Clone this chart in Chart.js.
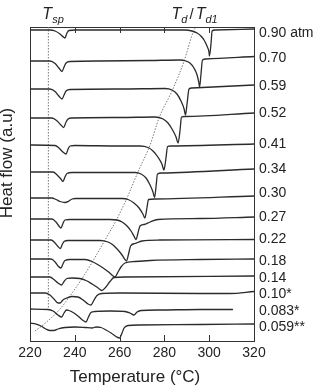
<!DOCTYPE html>
<html>
<head>
<meta charset="utf-8">
<script src="https://cdn.jsdelivr.net/npm/chart.js@4.4.1/dist/chart.umd.min.js"></script>
<style>
  html, body { margin: 0; padding: 0; background: #fff; }
</style>
</head>
<body>
<canvas id="dsc" width="321" height="391"></canvas>
<script>
// pressure of each trace, top to bottom
const pressureLabels = ["0.90 atm", "0.70", "0.59", "0.52", "0.41", "0.34", "0.30",
    "0.27", "0.22", "0.18", "0.14", "0.10*", "0.083*", "0.059**"];
// heat flow level (a.u.) where each pressure label sits
const labelLevels = [308, 283, 255, 228, 197, 172, 148, 124, 102, 80, 63, 47, 30, 14];
const xTicks = [220, 240, 260, 280, 300, 320];
const innerTicks = [240, 260, 280, 300];

// Tsp marker and Td guide line, [temperature, heat flow]
const tspTemp = 228.2;
const tspLine = [[228.2, 314], [228.2, 33]];
const tdLine = [[222.2, 10], [225.8, 16], [233.4, 32], [238.8, 48], [243.7, 64], [248.6, 82],
    [253.5, 101], [258.8, 122], [263.3, 143], [268.2, 169], [273.6, 196], [277.6, 223],
    [283.8, 252], [288.8, 280], [293.2, 311], [294.1, 314]];

// DSC traces, [temperature (°C), heat flow (a.u., offset)]
const p090 = [[220, 311], [228.9, 311], [231.2, 310], [233.4, 307], [235.2, 303.5], [235.6, 303],
    [236.5, 308], [237.4, 310.5], [240.1, 311], [260.2, 311], [278, 311], [289.2, 311],
    [292.3, 310], [294.6, 308], [296.3, 305], [297.7, 301], [299, 295], [299.9, 289],
    [300.1, 285], [300.8, 297], [301.3, 310], [302.6, 311], [320, 312]];
const p070 = [[220, 280], [228.9, 280], [231.2, 277.5], [232.9, 273], [234.3, 269.5], [235.2, 274],
    [236.1, 278], [237.9, 279.5], [251.3, 280], [273.6, 280.5], [287, 281], [289.6, 280],
    [291.4, 278], [293.2, 273], [294.6, 266], [295.4, 258], [295.7, 254], [296.3, 266],
    [297, 281], [298.6, 282], [320, 284.5]];
const p059 = [[220, 252], [228.9, 252], [231.2, 249.5], [232.9, 245], [234.3, 242], [235.2, 246],
    [236.1, 250], [237.9, 251.5], [260.2, 252], [280.3, 252.5], [283.4, 251], [285.6, 247],
    [287.4, 240], [288.8, 232], [289.4, 226], [290.1, 237], [291, 252], [292.3, 253], [320, 256]];
const p052 = [[220, 223], [229.8, 223], [232.1, 220], [233.8, 216], [235, 213.5], [236.1, 219],
    [237, 222], [238.8, 223], [260.2, 223.5], [275.8, 224], [279.4, 222], [281.6, 218],
    [283.4, 212], [285.2, 204], [286.1, 198], [287, 211], [287.6, 224], [289.2, 224.5], [320, 228]];
const p041 = [[220, 196], [231.2, 195.5], [232.9, 193], [234.7, 189], [236.1, 187], [237, 192],
    [237.9, 195], [240.1, 195.5], [260.2, 195], [269.1, 195], [272.7, 193.5], [274.9, 190],
    [277.1, 184], [278.9, 177], [279.8, 171], [280.7, 183], [281.4, 194.5], [282.9, 195], [320, 197]];
const p034 = [[220, 169], [230.3, 169], [232.1, 166], [233.8, 162], [234.7, 159.5], [235.6, 164],
    [236.5, 167.5], [238.8, 168.5], [260.2, 168.5], [266.9, 168.5], [269.6, 167], [271.8, 163],
    [273.6, 156], [274.9, 149], [275.6, 143.5], [276.3, 155], [276.9, 167], [278.9, 168], [320, 172]];
const p030 = [[220, 143], [229.8, 143], [231.6, 141.5], [233.4, 139.5], [235.6, 138.5], [237.4, 140],
    [238.8, 142], [240.5, 142.5], [255.7, 142.5], [261.1, 142.5], [263.8, 141.5], [266.4, 138],
    [268.7, 133], [270.4, 127], [271.3, 123], [272.2, 133], [272.9, 141.5], [275.8, 142], [320, 145]];
const p027 = [[220, 122], [229.8, 122], [231.6, 119], [232.9, 115], [233.8, 113], [234.7, 117.5],
    [235.6, 121], [237.9, 121.5], [255.7, 121.5], [258.8, 121], [261.1, 119], [263.3, 115],
    [265.1, 110], [266.4, 105], [267.3, 101.5], [268.2, 108], [269.1, 115], [270.9, 116.5],
    [273.6, 119], [277.1, 121.5], [295.9, 122.5], [320, 124]];
const p022 = [[220, 101], [229.4, 101], [231.2, 98], [232.5, 94.5], [233.6, 92.5], [234.3, 96],
    [235.2, 99.5], [237, 100.5], [251.3, 100.5], [254.8, 99], [257.1, 96], [259.3, 91],
    [261.1, 86], [262.4, 81.5], [263.1, 80], [264, 87], [264.9, 95], [266.9, 97.5], [270, 100],
    [278, 101], [320, 101.5]];
const p018 = [[220, 82], [229.4, 82], [231.2, 79], [232.5, 75], [233.8, 73], [234.7, 77],
    [235.6, 80.5], [237.9, 81.5], [244.6, 81.5], [247.7, 79.5], [251.3, 75], [254.8, 69.5],
    [257.1, 65], [257.9, 64], [259.3, 69], [260.6, 74], [262.4, 78], [266.9, 79.5], [273.6, 80.5],
    [295.9, 81.5], [320, 82]];
const p014 = [[220, 64], [228.9, 64], [230.7, 61.5], [232.5, 58], [234.1, 56], [235.2, 59.5],
    [236.5, 62.5], [238.8, 63], [242.3, 62.5], [245, 60.5], [247.7, 57], [250.4, 53],
    [252.1, 50.5], [253.9, 54], [255.7, 59.5], [257.5, 63.5], [262.4, 64], [320, 65]];
const p010 = [[220, 48], [226.7, 48], [228.9, 46], [230.7, 42], [232.5, 38], [233.4, 38],
    [234.7, 41], [236.5, 43], [238.8, 44.5], [241.4, 44], [243.7, 41], [245.9, 37], [247.2, 36],
    [248.6, 41], [249.9, 45.5], [252.1, 47.5], [260.2, 48], [295.9, 47.5], [309.3, 47.5], [320, 49.5]];
const p083 = [[220, 32], [228, 31.5], [230.3, 30], [232.5, 26], [234.1, 24], [235.2, 28],
    [236.3, 31], [237.4, 30.5], [239.6, 28], [241.9, 24], [243.7, 20.5], [245, 19], [245.9, 23],
    [247.2, 28.5], [249, 29.5], [255.7, 30], [262.4, 29.5], [264.6, 28], [266.4, 26], [267.8, 29],
    [269.6, 30.5], [278, 31], [295.9, 31.5], [310.6, 31.5]];
const p059b = [[220, 18], [222.7, 17], [224.9, 15], [227.1, 12], [228.9, 10.5], [230.7, 10.5],
    [232.5, 12], [235.6, 13.5], [240.1, 14], [244.6, 13.5], [247.7, 13], [249.5, 14],
    [251.7, 13.5], [253.9, 11], [256.2, 8], [258.4, 4.5], [260, 3], [261.1, 8], [262, 13],
    [263.8, 15.5], [269.1, 16], [295.9, 16.5], [320, 17]];

const curves = [p090, p070, p059, p052, p041, p034, p030, p027, p022, p018, p014, p010, p083, p059b];

const lineColor = "#2b2b2b";
const axisColor = "#333";
const fontFamily = "'Liberation Sans', Arial, sans-serif";
Chart.defaults.font.family = fontFamily;

const toXY = (pts) => pts.map((p) => ({ x: p[0], y: p[1] }));

const datasets = curves.map((pts, i) => ({
    label: pressureLabels[i],
    data: toXY(pts),
    borderColor: lineColor,
    borderWidth: 1.3,
    pointRadius: 0,
    cubicInterpolationMode: "monotone",
    fill: false,
}));
datasets.push({
    label: "Tsp",
    data: toXY(tspLine),
    borderColor: "#777",
    borderWidth: 1,
    borderDash: [1.5, 1.5],
    pointRadius: 0,
    tension: 0,
});
datasets.push({
    label: "Td",
    data: toXY(tdLine),
    borderColor: "#777",
    borderWidth: 1,
    borderDash: [1.5, 1.5],
    pointRadius: 0,
    cubicInterpolationMode: "monotone",
});

// draws T_sp / T_d labels, the axis titles and the inward ticks
function drawParts(ctx, x, baseline, parts) {
    parts.forEach((p) => {
        ctx.font = (p.italic ? "italic " : "") + p.size + "px " + fontFamily;
        x += p.gap || 0;
        ctx.fillText(p.t, x, baseline + (p.dy || 0));
        x += ctx.measureText(p.t).width;
    });
}

const extrasPlugin = {
    id: "dscExtras",
    afterDraw(chart) {
        const { ctx, chartArea, scales } = chart;
        ctx.save();
        ctx.strokeStyle = axisColor;
        ctx.lineWidth = 1;
        innerTicks.forEach((v) => {
            const px = Math.round(scales.x.getPixelForValue(v)) + 0.5;
            ctx.beginPath();
            ctx.moveTo(px, chartArea.bottom);
            ctx.lineTo(px, chartArea.bottom - 6);
            ctx.moveTo(px, chartArea.top);
            ctx.lineTo(px, chartArea.top + 6);
            ctx.stroke();
        });

        ctx.fillStyle = "#222";
        ctx.textAlign = "left";
        ctx.textBaseline = "alphabetic";
        drawParts(ctx, scales.x.getPixelForValue(tspTemp) - 6, 19, [
            { t: "T", size: 16, italic: true },
            { t: "sp", size: 11, italic: true, dy: 4 },
        ]);
        drawParts(ctx, scales.x.getPixelForValue(283.2), 19, [
            { t: "T", size: 16, italic: true },
            { t: "d", size: 11, italic: true, dy: 4 },
            { t: "/", size: 15, gap: 2 },
            { t: "T", size: 16, italic: true, gap: 2 },
            { t: "d1", size: 11, italic: true, dy: 4 },
        ]);

        ctx.font = "17px " + fontFamily;
        ctx.textAlign = "center";
        ctx.textBaseline = "middle";
        ctx.fillText("Temperature (°C)", 135, 377);
        ctx.translate(7, 163);
        ctx.rotate(-Math.PI / 2);
        ctx.fillText("Heat flow (a.u)", 0, 0);
        ctx.restore();
    },
};

const hiddenGrid = { display: false, drawTicks: false };
const frame = { display: true, color: axisColor, width: 1 };

new Chart(document.getElementById("dsc"), {
    type: "line",
    data: { datasets: datasets },
    options: {
        responsive: false,
        animation: false,
        events: [],
        layout: { padding: 0 },
        plugins: {
            legend: { display: false },
            tooltip: { enabled: false },
        },
        scales: {
            x: {
                type: "linear",
                position: "bottom",
                min: 220,
                max: 320,
                afterBuildTicks: (ax) => {
                    ax.ticks = xTicks.map((v) => ({ value: v }));
                },
                ticks: { font: { size: 14 }, color: "#222", padding: 4, maxRotation: 0, autoSkip: false },
                grid: hiddenGrid,
                border: frame,
                afterFit: (ax) => {
                    ax.height = 50;
                },
            },
            xTop: {
                type: "linear",
                position: "top",
                min: 220,
                max: 320,
                ticks: { display: false },
                grid: hiddenGrid,
                border: frame,
                afterFit: (ax) => {
                    ax.height = 27;
                },
            },
            yl: {
                type: "linear",
                position: "left",
                min: 0,
                max: 314,
                ticks: { display: false },
                grid: hiddenGrid,
                border: frame,
                afterFit: (ax) => {
                    ax.width = 30;
                },
            },
            y: {
                type: "linear",
                position: "right",
                min: 0,
                max: 314,
                afterBuildTicks: (ax) => {
                    ax.ticks = labelLevels.map((v) => ({ value: v }));
                },
                ticks: {
                    autoSkip: false,
                    font: { size: 14 },
                    color: "#222",
                    padding: 5,
                    callback: (v, i) => pressureLabels[i],
                },
                grid: hiddenGrid,
                border: frame,
                afterFit: (ax) => {
                    ax.width = 67;
                },
            },
        },
    },
    plugins: [extrasPlugin],
});
</script>
</body>
</html>
